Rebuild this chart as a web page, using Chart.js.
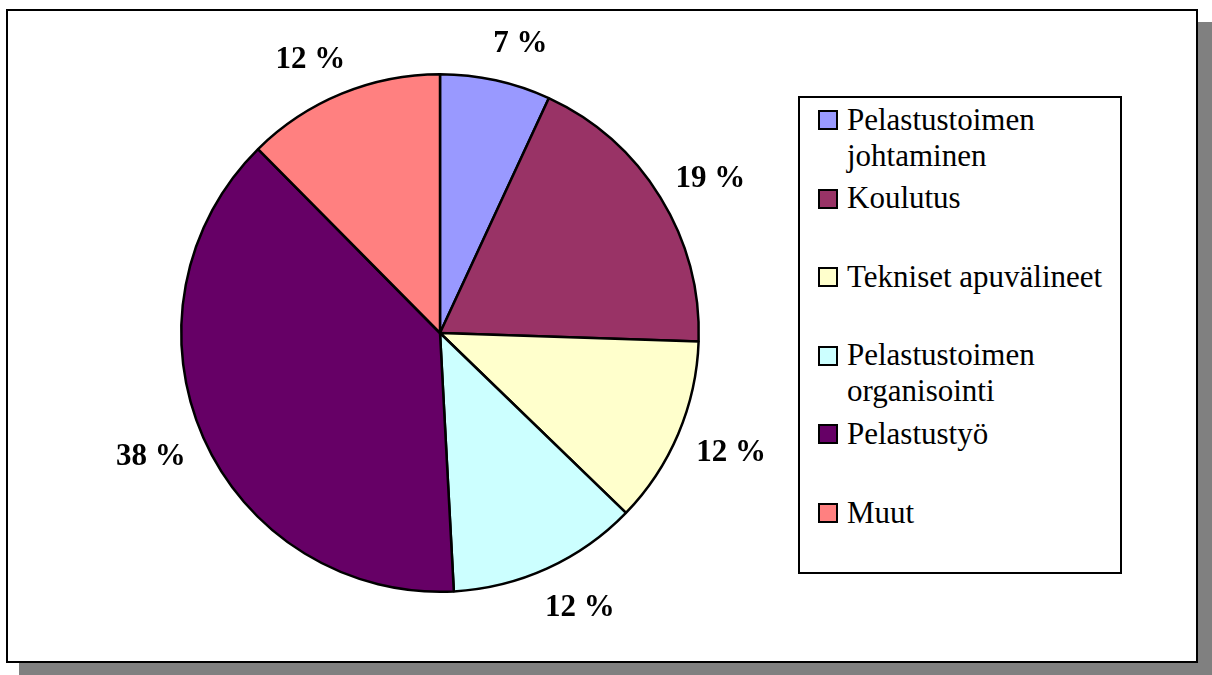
<!DOCTYPE html>
<html>
<head>
<meta charset="utf-8">
<script src="https://cdn.jsdelivr.net/npm/chart.js@4/dist/chart.umd.min.js"></script>
<style>
  html, body { margin: 0; padding: 0; background: #fff; }
  body { width: 1212px; height: 675px; position: relative; overflow: hidden; font-family: "Liberation Serif", "Times New Roman", serif; }
  #shadow { position: absolute; left: 19px; top: 22px; width: 1193px; height: 653px; background: #808080; }
  #frame { position: absolute; left: 6px; top: 9px; width: 1188px; height: 650px; background: #fff; border: 2px solid #000; }
  #chartWrap { position: absolute; left: 0; top: 0; width: 1212px; height: 675px; }
  #legend { position: absolute; left: 798px; top: 96px; width: 320px; height: 474px; border: 2px solid #000; background: #fff; }
  .item { position: absolute; left: 0; width: 320px; }
  .sw { position: absolute; left: 18px; width: 16px; height: 16px; border: 2px solid #000; }
  .txt { position: absolute; left: 47px; font-size: 31px; line-height: 36px; color: #000; white-space: nowrap; }
</style>
</head>
<body>
<div id="shadow"></div>
<div id="frame"></div>
<div id="chartWrap"><canvas id="c"></canvas></div>
<div id="legend"></div>
<script>
const categories = [
  ["Pelastustoimen", "johtaminen"],
  ["Koulutus"],
  ["Tekniset apuvälineet"],
  ["Pelastustoimen", "organisointi"],
  ["Pelastustyö"],
  ["Muut"]
];
const shares = [6.9, 18.6, 11.7, 11.9, 38.4, 12.4];
const colors = ["#9999FF", "#993366", "#FFFFCC", "#CCFFFF", "#660066", "#FF8080"];

const labelPlugin = {
  id: 'outLabels',
  afterDatasetsDraw(chart) {
    const ctx = chart.ctx;
    const meta = chart.getDatasetMeta(0);
    const data = chart.data.datasets[0].data;
    const total = data.reduce((a, b) => a + b, 0);
    ctx.save();
    ctx.font = 'bold 31px "Liberation Serif", "Times New Roman", serif';
    ctx.fillStyle = '#000';
    ctx.textAlign = 'center';
    ctx.textBaseline = 'middle';
    meta.data.forEach((arc, i) => {
      const p = arc.getProps(['x', 'y', 'startAngle', 'endAngle', 'outerRadius'], true);
      const mid = (p.startAngle + p.endAngle) / 2;
      const ux = Math.cos(mid), uy = Math.sin(mid);
      const r = p.outerRadius + 40;
      const x = p.x + ux * r + Math.sign(ux) * 16;
      const y = p.y + uy * r + 3;
      ctx.fillText(Math.round(data[i] / total * 100) + ' %', x, y);
    });
    ctx.restore();
  }
};

new Chart(document.getElementById('c'), {
  type: 'pie',
  data: {
    labels: categories.map(l => l.join(' ')),
    datasets: [{
      data: shares,
      backgroundColor: colors,
      borderColor: '#000',
      borderWidth: 2.5
    }]
  },
  options: {
    responsive: true,
    maintainAspectRatio: false,
    animation: false,
    layout: { padding: { left: 180, right: 512, top: 73, bottom: 82 } },
    plugins: { legend: { display: false }, tooltip: { enabled: false } }
  },
  plugins: [labelPlugin]
});

// HTML legend built from the same arrays
const legend = document.getElementById('legend');
const firstBaseline = 130 - 96 - 2; // relative to legend inner box
const step = 78.6;
categories.forEach((lines, i) => {
  const base = firstBaseline + i * step;
  const item = document.createElement('div');
  item.className = 'item';
  const sw = document.createElement('div');
  sw.className = 'sw';
  sw.style.background = colors[i];
  sw.style.top = (base - 20) + 'px';
  const txt = document.createElement('div');
  txt.className = 'txt';
  txt.style.top = (base - 28.5) + 'px';
  txt.innerHTML = lines.join('<br>');
  item.appendChild(sw);
  item.appendChild(txt);
  legend.appendChild(item);
});
</script>
</body>
</html>
